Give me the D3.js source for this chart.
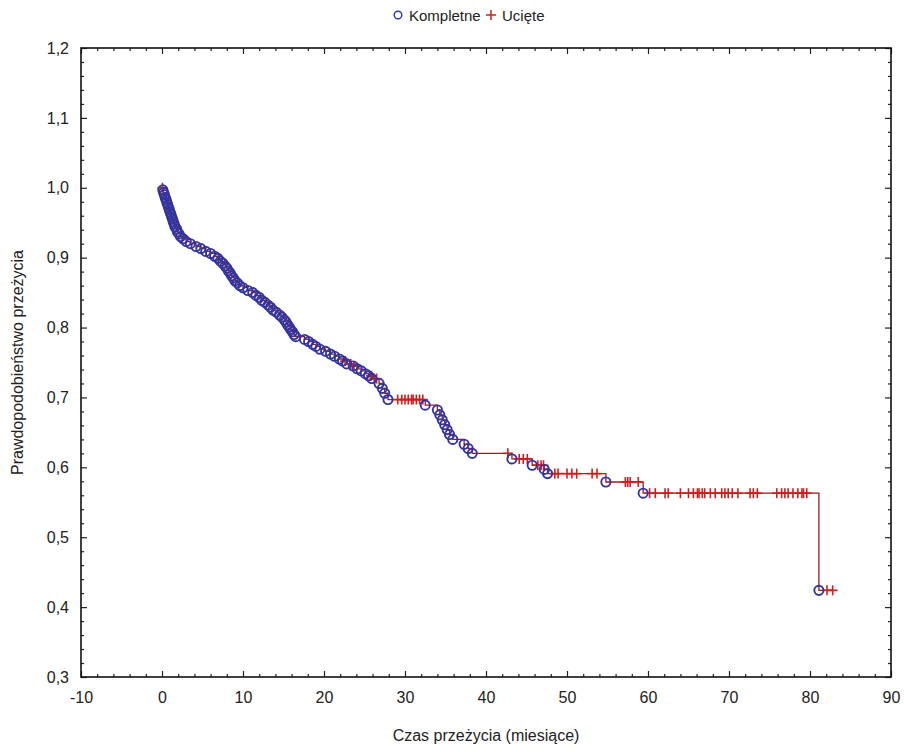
<!DOCTYPE html>
<html><head><meta charset="utf-8">
<script src="https://cdn.jsdelivr.net/npm/d3@7/dist/d3.min.js"></script>
<style>
body{margin:0;background:#fff;}
text{font-family:"Liberation Sans",Arial,sans-serif;fill:#222;}
</style></head>
<body>
<svg id="chart" width="904" height="752"></svg>
<script>
// ---- data ----
const xTicks = [-10,0,10,20,30,40,50,60,70,80,90];
const yTicks = [0.3,0.4,0.5,0.6,0.7,0.8,0.9,1.0,1.1,1.2];
const legendLabels = ["Kompletne","Ucięte"];
const xTitle = "Czas przeżycia (miesiące)";
const yTitle = "Prawdopodobieństwo przeżycia";

// complete (event) observations: time, survival after the step
const eventTimes = [0.1,0.2,0.3,0.4,0.5,0.6,0.7,0.8,0.9,1.0,1.1,1.2,1.3,1.4,1.5,1.6,1.8,1.9,2.1,2.3,2.6,3.0,3.5,4.2,4.8,5.4,6.0,6.5,6.9,7.2,7.5,7.8,8.0,8.2,8.4,8.6,8.8,9.0,9.3,9.6,10.0,10.6,11.2,11.6,12.0,12.3,12.7,13.1,13.4,13.7,14.1,14.5,14.8,15.1,15.3,15.5,15.7,15.9,16.1,16.3,16.5,17.6,18.1,18.6,19.0,19.5,20.2,20.8,21.3,21.9,22.3,22.8,23.6,24.1,24.6,25.1,25.5,25.9,26.8,27.2,27.5,27.9,32.5,34.0,34.3,34.6,34.9,35.2,35.5,35.9,37.3,37.8,38.3,43.2,45.7,47.2,47.6,54.8,59.4,81.1];
const eventSurv = [0.997,0.993,0.990,0.986,0.983,0.979,0.976,0.972,0.969,0.965,0.962,0.958,0.955,0.951,0.948,0.944,0.941,0.937,0.934,0.930,0.927,0.923,0.920,0.916,0.913,0.909,0.906,0.902,0.899,0.895,0.892,0.888,0.885,0.881,0.878,0.874,0.871,0.867,0.864,0.860,0.857,0.853,0.850,0.846,0.843,0.839,0.836,0.832,0.829,0.825,0.822,0.818,0.815,0.811,0.808,0.804,0.801,0.797,0.794,0.790,0.787,0.783,0.780,0.776,0.773,0.769,0.766,0.762,0.759,0.755,0.752,0.748,0.745,0.741,0.738,0.734,0.731,0.727,0.720,0.713,0.706,0.697,0.689,0.682,0.675,0.668,0.661,0.654,0.647,0.640,0.633,0.627,0.620,0.612,0.603,0.597,0.591,0.579,0.563,0.424];

// censored observations: time
const censTimes = [0.05,22.6,23.3,23.7,25.8,26.2,26.5,29.1,29.6,30.0,30.4,30.8,31.0,31.4,31.8,32.2,42.7,44.1,44.6,45.1,46.4,46.8,47.1,48.5,48.9,50.0,50.6,51.2,53.1,53.7,57.2,57.5,57.8,58.8,60.2,60.9,62.1,62.5,64.0,65.0,65.6,66.1,66.3,66.7,67.0,67.7,68.3,69.1,69.5,69.9,70.4,71.1,72.6,73.0,73.5,75.9,76.5,76.9,77.3,77.9,78.5,79.0,79.2,79.6,82.1,82.8];

// ---- layout ----
const svg = d3.select("#chart");
const L = 81, R = 891, T = 48, B = 677;
const x = d3.scaleLinear().domain([-10,90]).range([L,R]);
const y = d3.scaleLinear().domain([0.3,1.2]).range([B,T]);
const fmt = v => d3.format(".1f")(v).replace(".", ",");

// survival at time t (step function)
function survAt(t){
  let s = 1.0;
  for(let i=0;i<eventTimes.length;i++){ if(eventTimes[i] <= t) s = eventSurv[i]; }
  return s;
}

// minor ticks
const xMinor = d3.range(-10, 90.001, 2).filter(v => Math.abs(v % 10) > 0.001);
const yMinor = d3.range(0.3, 1.2001, 0.02).filter(v => Math.abs(Math.round(v*100) % 10) > 0.001);

function axisGroup(axis, tx, ty){
  const g = svg.append("g").attr("transform",`translate(${tx},${ty})`).call(axis);
  g.select(".domain").remove();
  g.selectAll("line").attr("stroke","#222").attr("stroke-width",1.2);
  return g;
}
// bottom
const gxb = axisGroup(d3.axisBottom(x).tickValues(xTicks).tickSize(-6).tickPadding(15).tickFormat(v => String(v)), 0, B);
gxb.selectAll("text").style("font-size","16px").attr("fill","#222");
axisGroup(d3.axisBottom(x).tickValues(xMinor).tickSize(-3).tickFormat(""), 0, B);
// top
axisGroup(d3.axisTop(x).tickValues(xTicks).tickSize(-6).tickFormat(""), 0, T);
axisGroup(d3.axisTop(x).tickValues(xMinor).tickSize(-3).tickFormat(""), 0, T);
// left
const gyl = axisGroup(d3.axisLeft(y).tickValues(yTicks).tickSize(-6).tickPadding(12).tickFormat(fmt), L, 0);
gyl.selectAll("text").style("font-size","16px").attr("fill","#222");
axisGroup(d3.axisLeft(y).tickValues(yMinor).tickSize(-3).tickFormat(""), L, 0);
// right
axisGroup(d3.axisRight(y).tickValues(yTicks).tickSize(-6).tickFormat(""), R, 0);
axisGroup(d3.axisRight(y).tickValues(yMinor).tickSize(-3).tickFormat(""), R, 0);

// frame
svg.append("rect").attr("x",L).attr("y",T).attr("width",R-L).attr("height",B-T)
  .attr("fill","none").attr("stroke","#111").attr("stroke-width",1.6);

// step line
const pts = [[0,1.0]];
let prev = 1.0;
eventTimes.forEach((t,i) => { pts.push([t,prev]); pts.push([t,eventSurv[i]]); prev = eventSurv[i]; });
pts.push([d3.max(censTimes), prev]);
svg.append("path").datum(pts)
  .attr("d", d3.line().x(d => x(d[0])).y(d => y(d[1])))
  .attr("fill","none").attr("stroke","#9a1c1c").attr("stroke-width",1.3);

// censored crosses
const cross = 5;
const gc = svg.append("g").attr("stroke","#d41c1c").attr("stroke-width",1.6);
censTimes.forEach(t => {
  const cx = x(t), cy = y(survAt(t));
  gc.append("line").attr("x1",cx-cross).attr("x2",cx+cross).attr("y1",cy).attr("y2",cy);
  gc.append("line").attr("x1",cx).attr("x2",cx).attr("y1",cy-cross).attr("y2",cy+cross);
});

// event circles
svg.append("g").selectAll("circle").data(eventTimes).join("circle")
  .attr("cx", d => x(d)).attr("cy", (d,i) => y(eventSurv[i])).attr("r",4.6)
  .attr("fill","none").attr("stroke","#34349e").attr("stroke-width",1.9);

// legend
const lg = svg.append("g");
lg.append("circle").attr("cx",398).attr("cy",15).attr("r",3.8).attr("fill","none").attr("stroke","#34349e").attr("stroke-width",1.4);
lg.append("text").attr("x",409).attr("y",20.5).style("font-size","15px").text(legendLabels[0]);
lg.append("line").attr("x1",486).attr("x2",496).attr("y1",15).attr("y2",15).attr("stroke","#d41c1c").attr("stroke-width",1.5);
lg.append("line").attr("x1",491).attr("x2",491).attr("y1",10).attr("y2",20).attr("stroke","#d41c1c").attr("stroke-width",1.5);
lg.append("text").attr("x",502).attr("y",20.5).style("font-size","15px").text(legendLabels[1]);

// axis titles
svg.append("text").attr("x",(L+R)/2).attr("y",741).attr("text-anchor","middle").style("font-size","16px").text(xTitle);
svg.append("text").attr("transform",`translate(23,${(T+B)/2}) rotate(-90)`).attr("text-anchor","middle").style("font-size","16px").text(yTitle);
</script>
</body></html>
